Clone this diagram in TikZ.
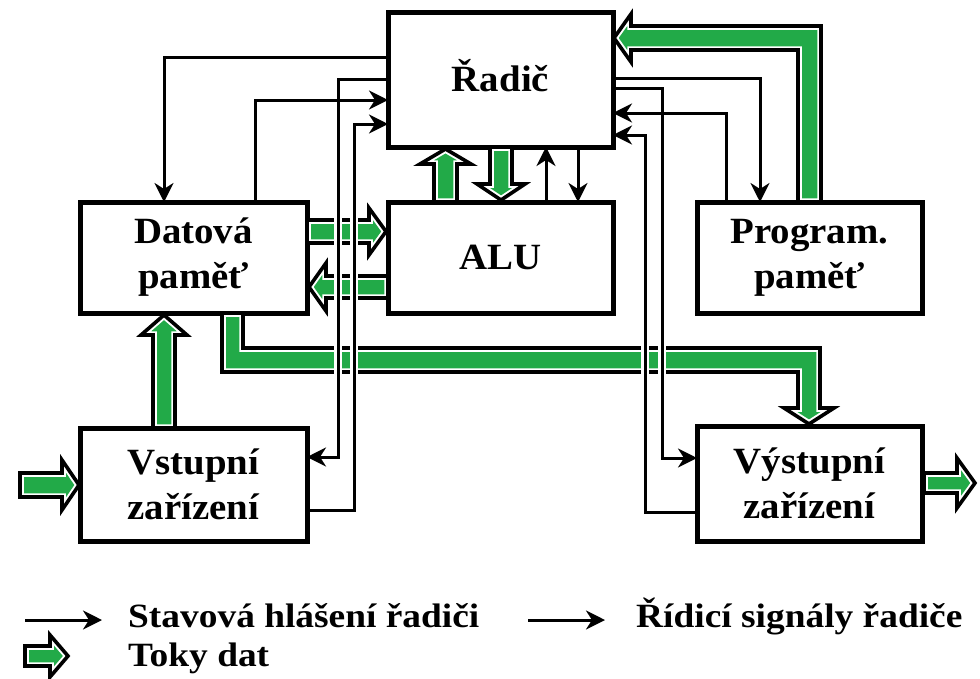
\documentclass[tikz,border=0pt]{standalone}
\usepackage{fontspec}
\setmainfont{Liberation Serif}
\newfontfamily\labfont{Liberation Serif}[FakeStretch=1.05]
\newfontfamily\legfont{Liberation Serif}[FakeStretch=1.1]
\usetikzlibrary{arrows.meta,calc}
\definecolor{dgreen}{RGB}{34,170,72}
\newcommand{\garrow}[1]{%
  \begin{scope}
    \clip #1 -- cycle;
    \fill[dgreen] #1 -- cycle;
    \draw[white, line width=7.5pt] #1 -- cycle;
  \end{scope}
  \draw[black, line width=3.6pt, line join=miter] #1 -- cycle;}
\begin{document}
\begin{tikzpicture}[x=1pt,y=-1pt,
  box/.style={draw, line width=5pt, fill=white, inner sep=0pt, outer sep=0pt, align=center,
    font=\labfont\bfseries\fontsize{37}{45}\selectfont},
  sig/.style={line width=3pt, -{Stealth[length=19pt,width=19pt,inset=6pt]}},
  legtext/.style={anchor=west, inner sep=0pt, font=\legfont\bfseries\fontsize{34}{40}\selectfont},
  halo/.style={white, line width=7.5pt}]
\fill[white] (0,0) rectangle (980,678);
\useasboundingbox (0,0) rectangle (980,678);

% boxes
\node[box, minimum width=225pt, minimum height=135pt] (radic) at (500.5,79.5) {\raisebox{8pt}{Řadič}};
\node[box, minimum width=227pt, minimum height=111pt] (datova) at (193.5,257.5) {Datová\\paměť};
\node[box, minimum width=225pt, minimum height=111pt] (alu) at (500.5,257.5) {ALU};
\node[box, minimum width=225pt, minimum height=111pt] (program) at (809.5,257.5) {Program.\\paměť};
\node[box, minimum width=227pt, minimum height=113pt] (vstup) at (193.5,484.5) {Vstupní\\zařízení};
\node[box, minimum width=225pt, minimum height=115pt] (vystup) at (809.5,483.5) {Výstupní\\zařízení};

% data flows
\garrow{(821,202) -- (821,26) -- (631,26) -- (631,14) -- (614,38) -- (631,62) -- (631,50) -- (798,50) -- (798,202)}
\garrow{(307,220) -- (369,220) -- (369,208) -- (386,231.5) -- (369,255) -- (369,243) -- (307,243)}
\garrow{(388,276) -- (326,276) -- (326,263) -- (309,287) -- (326,311) -- (326,298) -- (388,298)}
\garrow{(434,202) -- (434,164) -- (420,164) -- (445.5,149) -- (471,164) -- (457,164) -- (457,202)}
\garrow{(490,147) -- (490,184) -- (477,184) -- (501,200) -- (525,184) -- (512,184) -- (512,147)}
\garrow{(153,428) -- (153,335) -- (141,335) -- (164,315) -- (187,335) -- (175,335) -- (175,428)}
\garrow{(222,313) -- (222,372) -- (798,372) -- (798,408) -- (784,408) -- (809,424) -- (834,408) -- (820,408) -- (820,348) -- (243,348) -- (243,313)}
\garrow{(20,473) -- (62,473) -- (62,460) -- (79,485) -- (62,510) -- (62,497) -- (20,497)}
\garrow{(924,473) -- (957,473) -- (957,458) -- (975,483) -- (957,508) -- (957,493) -- (924,493)}

% halos where signal lines cross data flows
\foreach \x in {338,354} {\draw[halo] (\x,207) -- (\x,308); \draw[halo] (\x,343) -- (\x,377);}
\foreach \x in {645,662} {\draw[halo] (\x,343) -- (\x,377);}

% signal lines
\draw[sig] ($(radic.north west)+(0,45)$) -| ($(datova.north west)+(84,0)$);
\draw[sig] ($(radic.north west)+(0,67)$) -- ++(-50,0) |- ($(vstup.north east)+(0,29)$);
\draw[sig] ($(datova.north west)+(175,0)$) |- ($(radic.north west)+(0,88)$);
\draw[sig] ($(vstup.south east)+(0,-31)$) -- ++(47,0) |- ($(radic.north west)+(0,112)$);
\draw[sig] ($(radic.north east)+(0,66)$) -| ($(program.north west)+(63,0)$);
\draw[sig] ($(radic.north east)+(0,76)$) -- ++(49,0) |- ($(vystup.north west)+(0,32)$);
\draw[sig] ($(program.north west)+(29,0)$) |- ($(radic.north east)+(0,101)$);
\draw[sig] ($(vystup.south west)+(0,-29)$) -- ++(-52,0) |- ($(radic.north east)+(0,123)$);
\draw[sig] ($(alu.north west)+(158,0)$) -- ($(radic.south west)+(158,0)$);
\draw[sig] ($(radic.south west)+(190,0)$) -- ($(alu.north west)+(190,0)$);

% legend
\coordinate (l1a) at (25,620); \coordinate (l1b) at (102,620);
\draw[sig] (l1a) -- (l1b);
\node[legtext] (leg1) at (128,616) {Stavová hlášení řadiči};
\coordinate (l2a) at (528,620); \coordinate (l2b) at (605,620);
\draw[sig] (l2a) -- (l2b);
\node[legtext] (leg2) at (636,616) {Řídicí signály řadiče};
\garrow{(25,646) -- (50,646) -- (50,635) -- (68,656) -- (50,677) -- (50,666) -- (25,666)}
\node[legtext] (leg3) at (128,658) {Toky dat};
\end{tikzpicture}
\end{document}
